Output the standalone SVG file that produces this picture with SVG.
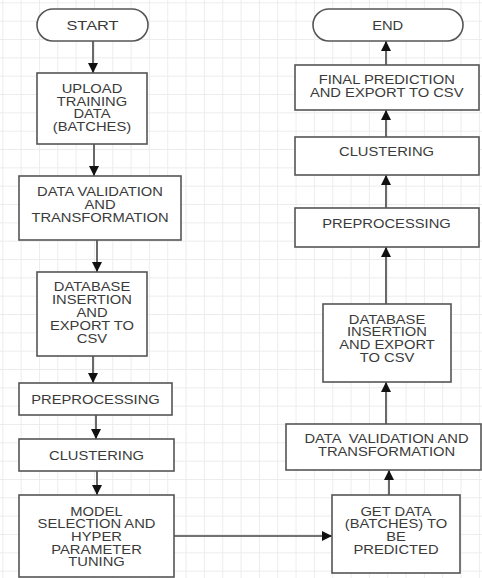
<svg xmlns="http://www.w3.org/2000/svg" width="482" height="578" viewBox="0 0 482 578">
<defs>
<pattern id="grid" width="18.33" height="18.33" patternUnits="userSpaceOnUse" x="2.3" y="2.4">
<path d="M0.5 0 V18.33 M0 0.5 H18.33" fill="none" stroke="#ececec" stroke-width="1"/>
</pattern>
<marker id="arr" markerWidth="10" markerHeight="10" refX="10" refY="5" orient="auto" markerUnits="userSpaceOnUse" viewBox="0 0 10 10">
<path d="M0 0 L10 5 L0 10 Z" fill="#111"/>
</marker>
<style>
.box{fill:#fff;stroke:#555;stroke-width:1.6}
.t{font-family:"Liberation Sans",Arial,sans-serif;font-size:12.6px;fill:#3a3a3a;text-anchor:middle}
.c{fill:none;stroke:#444;stroke-width:1.6;marker-end:url(#arr)}
</style>
</defs>
<rect width="482" height="578" fill="#fff"/>
<rect width="482" height="578" fill="url(#grid)"/>

<g id="connectors">
<line class="c" x1="93" y1="41" x2="93" y2="73"/>
<line class="c" x1="94" y1="144" x2="94" y2="176"/>
<line class="c" x1="97" y1="240" x2="97" y2="272"/>
<line class="c" x1="93" y1="356" x2="93" y2="383"/>
<line class="c" x1="96" y1="415" x2="96" y2="439"/>
<line class="c" x1="97" y1="471" x2="97" y2="495"/>
<line class="c" x1="174" y1="536" x2="332" y2="536"/>
<line class="c" x1="389" y1="495" x2="389" y2="470"/>
<line class="c" x1="386" y1="424" x2="386" y2="382"/>
<line class="c" x1="386" y1="304" x2="386" y2="247"/>
<line class="c" x1="386" y1="208" x2="386" y2="175"/>
<line class="c" x1="386" y1="137" x2="386" y2="110"/>
<line class="c" x1="386" y1="65" x2="386" y2="41"/>
</g>

<g id="start">
<rect class="box" x="37" y="9" width="111" height="32" rx="16"/>
<text class="t" transform="translate(92.5 29.5) scale(1.3 1)">START</text>
</g>
<g id="upload">
<rect class="box" x="37" y="73" width="110" height="71"/>
<text class="t" transform="translate(92 93) scale(1.17 1)"><tspan x="0" y="0">UPLOAD</tspan><tspan x="0" y="12.6">TRAINING</tspan><tspan x="0" y="25.2">DATA</tspan><tspan x="0" y="37.8">(BATCHES)</tspan></text>
</g>
<g id="validation">
<rect class="box" x="19" y="176" width="162" height="64"/>
<text class="t" transform="translate(100 196) scale(1.17 1)"><tspan x="0" y="0">DATA VALIDATION</tspan><tspan x="0" y="12.8">AND</tspan><tspan x="0" y="25.6">TRANSFORMATION</tspan></text>
</g>
<g id="database">
<rect class="box" x="37" y="272" width="110" height="84"/>
<text class="t" transform="translate(92 291) scale(1.17 1)"><tspan x="0" y="0">DATABASE</tspan><tspan x="0" y="13">INSERTION</tspan><tspan x="0" y="26">AND</tspan><tspan x="0" y="39">EXPORT TO</tspan><tspan x="0" y="52">CSV</tspan></text>
</g>
<g id="preprocessing">
<rect class="box" x="19" y="383" width="153" height="32"/>
<text class="t" transform="translate(95.5 403.5) scale(1.17 1)">PREPROCESSING</text>
</g>
<g id="clustering">
<rect class="box" x="19" y="439" width="155" height="32"/>
<text class="t" transform="translate(96.5 459.5) scale(1.17 1)">CLUSTERING</text>
</g>
<g id="model">
<rect class="box" x="19" y="495" width="155" height="82"/>
<text class="t" transform="translate(96.5 515.5) scale(1.17 1)"><tspan x="0" y="0">MODEL</tspan><tspan x="0" y="12.7">SELECTION AND</tspan><tspan x="0" y="25.4">HYPER</tspan><tspan x="0" y="38.1">PARAMETER</tspan><tspan x="0" y="50.8">TUNING</tspan></text>
</g>
<g id="getdata">
<rect class="box" x="332" y="495" width="128" height="78"/>
<text class="t" transform="translate(396 515.5) scale(1.17 1)"><tspan x="0" y="0">GET DATA</tspan><tspan x="0" y="12.7">(BATCHES) TO</tspan><tspan x="0" y="25.4">BE</tspan><tspan x="0" y="38.1">PREDICTED</tspan></text>
</g>
<g id="validation2">
<rect class="box" x="286" y="424" width="195" height="46"/>
<text class="t" transform="translate(386.5 443.4) scale(1.17 1)" xml:space="preserve"><tspan x="0" y="0">DATA  VALIDATION AND</tspan><tspan x="0" y="12.6">TRANSFORMATION</tspan></text>
</g>
<g id="database2">
<rect class="box" x="323" y="304" width="128" height="78"/>
<text class="t" transform="translate(387 323.5) scale(1.17 1)"><tspan x="0" y="0">DATABASE</tspan><tspan x="0" y="12.8">INSERTION</tspan><tspan x="0" y="25.6">AND EXPORT</tspan><tspan x="0" y="38.4">TO CSV</tspan></text>
</g>
<g id="preprocessing2">
<rect class="box" x="295" y="208" width="184" height="39"/>
<text class="t" transform="translate(386.5 227.8) scale(1.17 1)">PREPROCESSING</text>
</g>
<g id="clustering2">
<rect class="box" x="295" y="137" width="184" height="38"/>
<text class="t" transform="translate(386.5 156.2) scale(1.17 1)">CLUSTERING</text>
</g>
<g id="final">
<rect class="box" x="295" y="65" width="184" height="45"/>
<text class="t" transform="translate(386.7 84.1) scale(1.17 1)"><tspan x="0" y="0">FINAL PREDICTION</tspan><tspan x="0" y="12.6">AND EXPORT TO CSV</tspan></text>
</g>
<g id="end">
<rect class="box" x="313" y="9" width="150" height="32" rx="16"/>
<text class="t" transform="translate(387.7 29.5) scale(1.17 1)">END</text>
</g>
</svg>
